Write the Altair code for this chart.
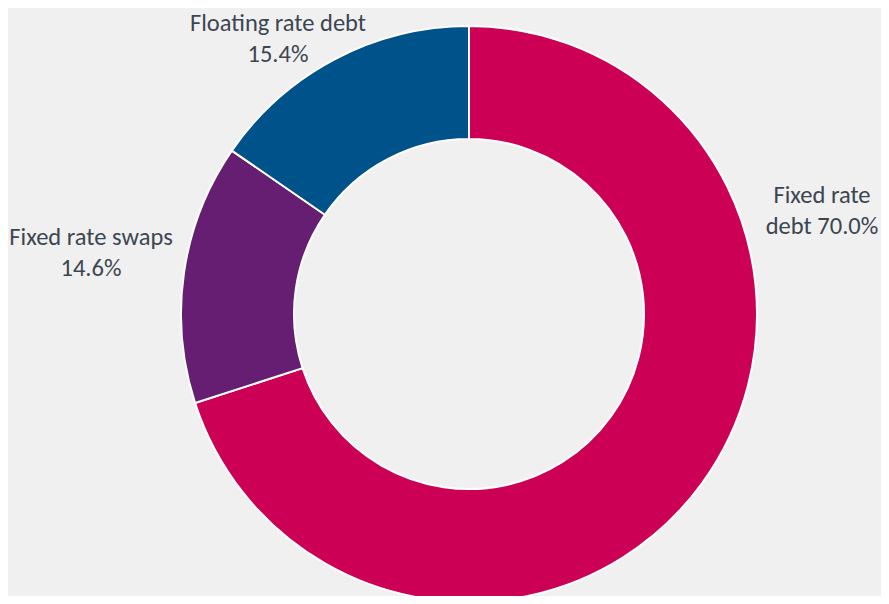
import altair as alt
import pandas as pd

categories = ["Fixed rate debt", "Fixed rate swaps", "Floating rate debt"]
values = [70.0, 14.6, 15.4]
colors = ["#cc0055", "#661e72", "#00528a"]
label_texts = ["Fixed rate\ndebt 70.0%", "Fixed rate swaps\n14.6%", "Floating rate debt\n15.4%"]

df = pd.DataFrame({
    "category": categories,
    "value": values,
    "order": list(range(len(categories))),
    "label": label_texts,
})

base = alt.Chart(df)

arc = base.mark_arc(
    innerRadius=175, outerRadius=288, stroke="white", strokeWidth=2
).encode(
    theta=alt.Theta("value:Q", stack=True),
    order=alt.Order("order:Q"),
    color=alt.Color("category:N", scale=alt.Scale(domain=categories, range=colors), legend=None),
    x=alt.value(461),
    y=alt.value(306),
)

FONT = "Carlito, Lato, Open Sans, sans-serif"

def label(cat, x, y):
    return base.transform_filter(alt.datum.category == cat).mark_text(
        font=FONT, fontSize=24.5, color="#3c4650", align="center",
        baseline="alphabetic", lineBreak="\n", lineHeight=31,
    ).encode(text="label:N", x=alt.value(x), y=alt.value(y))

chart = alt.layer(
    arc,
    label("Fixed rate debt", 814, 195),
    label("Fixed rate swaps", 83, 237),
    label("Floating rate debt", 270, 23),
).properties(
    width=873, height=588, background="#f0f0f0", padding=0,
    autosize=alt.AutoSizeParams(type="none"),
).configure_view(stroke=None)

chart.save("out.html", embed_options={"renderer": "svg", "actions": False})
